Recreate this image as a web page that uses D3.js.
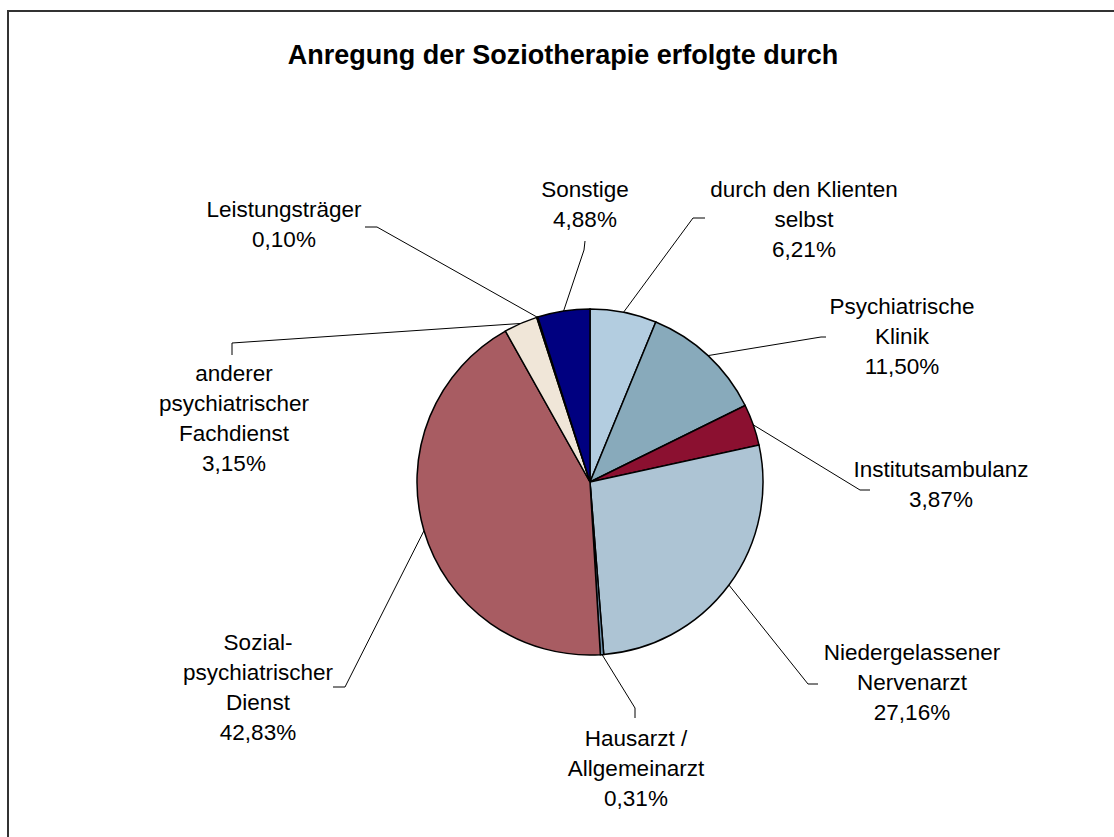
<!DOCTYPE html>
<meta charset="utf-8">
<head>
<style>
body { margin: 0; background: #fff; }
svg text { font-family: Arial, "Liberation Sans", sans-serif; fill: #000; }
.title { font-size: 27px; font-weight: bold; }
.lbl { font-size: 22.5px; }
.slice { stroke: #000; stroke-width: 1.5px; }
.leader { fill: none; stroke: #000; stroke-width: 1px; }
</style>
</head>
<body>
<div id="chart"></div>
<script src="https://d3js.org/d3.v7.min.js"></script>
<script>

// data, clockwise from 12 o'clock
var categories = [
  ["durch den Klienten", "selbst"],
  ["Psychiatrische", "Klinik"],
  ["Institutsambulanz"],
  ["Niedergelassener", "Nervenarzt"],
  ["Hausarzt /", "Allgemeinarzt"],
  ["Sozial-", "psychiatrischer", "Dienst"],
  ["anderer", "psychiatrischer", "Fachdienst"],
  ["Leistungsträger"],
  ["Sonstige"]
];
var values = [6.21, 11.50, 3.87, 27.16, 0.31, 42.83, 3.15, 0.10, 4.88];
var colors = ["#b3cde0", "#88aabb", "#8b1030", "#adc4d4", "#6d8fa8",
              "#a85c62", "#f0e6d8", "#9a7fb0", "#000080"];

// label placement: x centre, first baseline, elbow of leader, leader end
var labelPos = [
  {x: 804, y: 197, elbow: [693, 218], end: [705, 218]},
  {x: 902, y: 314, elbow: [821, 337], end: [826, 337]},
  {x: 941, y: 477, elbow: [860, 490], end: [870, 490]},
  {x: 912, y: 660, elbow: [808, 684], end: [818, 684]},
  {x: 636, y: 746, elbow: [635, 708], end: [635, 718]},
  {x: 258, y: 650, elbow: [345, 687], end: [333, 687]},
  {x: 234, y: 381, elbow: [232, 343], end: [232, 355]},
  {x: 284, y: 217, elbow: [377, 227], end: [365, 227]},
  {x: 585, y: 197, elbow: [584, 250], end: [585, 241]}
];

var width = 1114, height = 837;
var cx = 590, cy = 482, radius = 173;
var lineH = 30;

var de = d3.formatLocale({decimal: ",", thousands: ".", grouping: [3], currency: ["", " €"]});
var pct = function(v) { return de.format(".2f")(v) + "%"; };

var svg = d3.select("#chart")
  .append("svg")
    .attr("width", width)
    .attr("height", height);

// outer frame
svg.append("rect")
  .attr("x", 8)
  .attr("y", 11)
  .attr("width", width + 20)
  .attr("height", height + 20)
  .attr("fill", "#fff")
  .attr("stroke", "#333")
  .attr("stroke-width", 2);

svg.append("text")
  .attr("class", "title")
  .attr("x", 563)
  .attr("y", 64)
  .attr("text-anchor", "middle")
  .text("Anregung der Soziotherapie erfolgte durch");

var pie = d3.pie().sort(null).value(function(d) { return d; });
var arcs = pie(values);
var arc = d3.arc().innerRadius(0).outerRadius(radius);

var g = svg.append("g")
  .attr("transform", "translate(" + cx + "," + cy + ")");

g.selectAll("path")
  .data(arcs)
  .enter()
  .append("path")
    .attr("class", "slice")
    .attr("d", arc)
    .attr("fill", function(d, i) { return colors[i]; });

// leader lines from the middle of each slice's rim
svg.selectAll(".leader")
  .data(arcs)
  .enter()
  .append("polyline")
    .attr("class", "leader")
    .attr("points", function(d, i) {
      var a = (d.startAngle + d.endAngle) / 2;
      var px = cx + radius * Math.sin(a), py = cy - radius * Math.cos(a);
      var p = labelPos[i];
      return [[px, py], p.elbow, p.end].map(function(q) { return q.join(","); }).join(" ");
    });

// labels
var lbl = svg.selectAll(".lblgroup")
  .data(arcs)
  .enter()
  .append("text")
    .attr("class", "lbl")
    .attr("text-anchor", "middle");

lbl.each(function(d, i) {
  var t = d3.select(this);
  var lines = categories[i].concat([pct(values[i])]);
  lines.forEach(function(s, k) {
    t.append("tspan")
      .attr("x", labelPos[i].x)
      .attr("y", labelPos[i].y + k * lineH)
      .text(s);
  });
});

</script>
</body>
